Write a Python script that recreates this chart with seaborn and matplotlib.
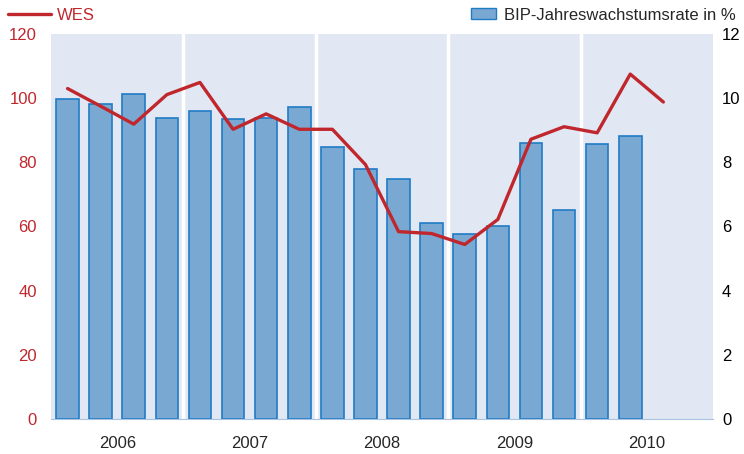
import numpy as np
import pandas as pd
import matplotlib
matplotlib.use("Agg")
import matplotlib.pyplot as plt
import seaborn as sns
from matplotlib.lines import Line2D
from matplotlib.patches import Patch

############# data
years = ["2006", "2007", "2008", "2009", "2010"]
# BIP growth rate in %, quarterly 2006Q1 .. 2010Q2 (right axis)
bip = [9.97, 9.81, 10.12, 9.38, 9.59, 9.35, 9.38, 9.72, 8.47, 7.79,
       7.48, 6.11, 5.76, 6.01, 8.60, 6.51, 8.57, 8.82]
# WES index, quarterly 2006Q1 .. 2010Q3 (left axis)
wes = [103.0, 97.5, 91.9, 101.1, 104.9, 90.3, 95.1, 90.3, 90.3, 79.3,
       58.4, 57.8, 54.4, 62.2, 87.2, 91.1, 89.2, 107.5, 98.8]

df_bar = pd.DataFrame({"q": np.arange(len(bip)), "bip": bip})
df_line = pd.DataFrame({"q": np.arange(len(wes)), "wes": wes})

red = "#c0272d"
bg = "#e1e8f4"
spine = "#a9c3e0"

sns.set_style("white")
plt.rcParams["font.family"] = ["Liberation Sans", "DejaVu Sans"]

fig = plt.figure(figsize=(7.44, 4.54), dpi=100)
ax = fig.add_axes([51 / 744, 35 / 454, 662 / 744, 385 / 454])
ax.set_facecolor(bg)

############# bars (right axis)
sns.barplot(data=df_bar, x="q", y="bip", native_scale=True, ax=ax,
            color="#79a9d3", saturation=1, edgecolor="#1f7bc4", linewidth=1.2, width=0.68)
ax.set_xlim(-0.5, 19.5)
ax.set_ylim(0, 12)
ax.set_yticks(range(0, 13, 2))
for b in [3.5, 7.5, 11.5, 15.5]:
    ax.axvline(b, color="white", lw=2.5, zorder=0.5)

ax.set_xticks([-0.5, 3.5, 7.5, 11.5, 15.5, 19.5])
ax.set_xticklabels([])
ax.set_xticks([1.5, 5.5, 9.5, 13.5, 17.5], minor=True)
ax.set_xticklabels(years, minor=True)
ax.tick_params(axis="x", which="major", length=5, color=spine, direction="out")
ax.tick_params(axis="x", which="minor", length=0, pad=12, labelsize=12)
ax.set_xlabel("")
ax.set_ylabel("")
for s in ["top", "left", "right"]:
    ax.spines[s].set_visible(False)
ax.spines["bottom"].set_color(spine)

############# line (left axis)
ax2 = ax.twinx()
sns.lineplot(data=df_line, x="q", y="wes", ax=ax2, color=red, lw=2.4)
ax2.yaxis.tick_left()
ax2.set_ylim(0, 120)
ax2.set_yticks(range(0, 121, 20))
ax2.tick_params(axis="y", length=0, pad=10, labelsize=12, labelcolor=red)
ax2.set_ylabel("")
ax2.set_xlabel("")
for s in ["top", "left", "right", "bottom"]:
    ax2.spines[s].set_visible(False)

# twinx moved the bar axis ticks to the left, put them back right
ax.yaxis.tick_right()
ax.tick_params(axis="y", length=0, pad=6.5, labelsize=12, colors="black")

############# legends
leg1 = fig.legend(handles=[Line2D([], [], color=red, lw=2.4)], labels=["WES"],
                  loc="center left", bbox_to_anchor=(8 / 744, 1 - 15 / 454),
                  frameon=False, borderpad=0, borderaxespad=0, handlelength=2.6,
                  handletextpad=0.35, fontsize=12, labelcolor=red)
leg2 = fig.legend(handles=[Patch(facecolor="#79a9d3", edgecolor="#1f7bc4", lw=1)],
                  labels=["BIP-Jahreswachstumsrate in %"],
                  loc="center right", bbox_to_anchor=(736 / 744, 1 - 15 / 454),
                  frameon=False, borderpad=0, borderaxespad=0, handlelength=1.5,
                  handleheight=0.6, handletextpad=0.5, fontsize=12)

fig.savefig("out.png", dpi=100)
